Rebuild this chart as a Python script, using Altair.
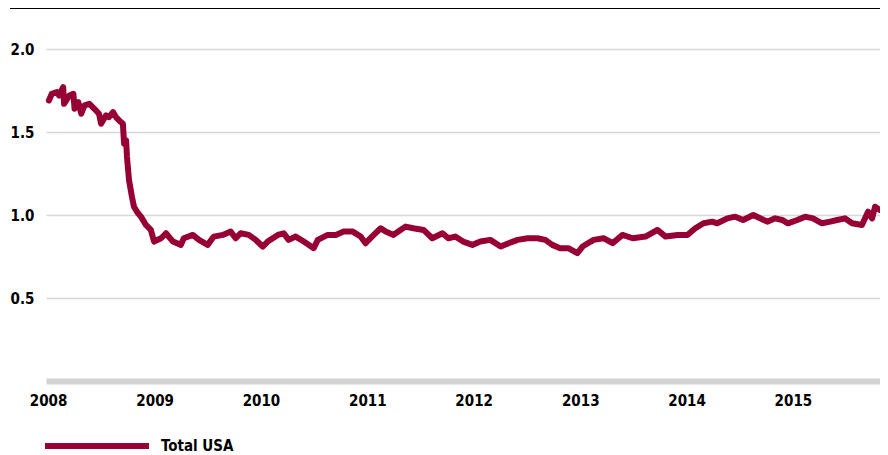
import altair as alt
import pandas as pd

dates = [
    "2008-01-04", "2008-01-14", "2008-01-31", "2008-02-08", "2008-02-22", "2008-02-25",
    "2008-03-14", "2008-03-28", "2008-04-01", "2008-04-14", "2008-04-24", "2008-05-05",
    "2008-05-22", "2008-06-08", "2008-06-24", "2008-07-01", "2008-07-18", "2008-07-28",
    "2008-08-11", "2008-08-21", "2008-09-01", "2008-09-14", "2008-09-18", "2008-09-25",
    "2008-09-28", "2008-10-05", "2008-10-15", "2008-10-22", "2008-11-05", "2008-11-15",
    "2008-12-02", "2008-12-19", "2008-12-30", "2009-01-23", "2009-02-09", "2009-03-05",
    "2009-04-01", "2009-04-11", "2009-05-12", "2009-06-02", "2009-07-02", "2009-07-23",
    "2009-08-23", "2009-09-19", "2009-10-06", "2009-10-23", "2009-11-20", "2009-12-14",
    "2010-01-07", "2010-01-24", "2010-02-28", "2010-03-20", "2010-04-06", "2010-04-30",
    "2010-05-28", "2010-07-01", "2010-07-15", "2010-08-18", "2010-09-15", "2010-10-12",
    "2010-11-12", "2010-12-09", "2010-12-26", "2011-01-23", "2011-02-16", "2011-03-05",
    "2011-04-01", "2011-04-25", "2011-05-12", "2011-06-08", "2011-07-13", "2011-08-12",
    "2011-09-16", "2011-10-06", "2011-10-30", "2011-11-26", "2011-12-28", "2012-01-24",
    "2012-02-27", "2012-04-03", "2012-04-30", "2012-05-31", "2012-07-04", "2012-08-07",
    "2012-09-03", "2012-09-27", "2012-10-24", "2012-11-21", "2012-12-22", "2013-01-09",
    "2013-02-06", "2013-02-16", "2013-03-22", "2013-04-22", "2013-05-26", "2013-06-30",
    "2013-08-13", "2013-09-23", "2013-10-21", "2013-12-01", "2014-01-04", "2014-01-31",
    "2014-02-28", "2014-03-30", "2014-04-16", "2014-05-21", "2014-06-17", "2014-07-14",
    "2014-08-18", "2014-10-05", "2014-11-01", "2014-11-25", "2014-12-15", "2015-01-16",
    "2015-02-12", "2015-03-11", "2015-04-11", "2015-05-09", "2015-06-02", "2015-06-29",
    "2015-07-23", "2015-08-26", "2015-09-16", "2015-09-30", "2015-10-10", "2015-10-27",
    "2015-11-06",
]

total_usa = [
    1.69, 1.73, 1.74, 1.72, 1.77, 1.67,
    1.72, 1.73, 1.64, 1.68, 1.61, 1.66,
    1.67, 1.64, 1.61, 1.55, 1.60, 1.59,
    1.62, 1.59, 1.57, 1.55, 1.43, 1.45,
    1.35, 1.21, 1.11, 1.05, 1.01, 0.99,
    0.94, 0.91, 0.84, 0.86, 0.89, 0.84,
    0.82, 0.86, 0.88, 0.85, 0.82, 0.87,
    0.88, 0.90, 0.86, 0.89, 0.88, 0.85,
    0.81, 0.84, 0.88, 0.89, 0.85, 0.87,
    0.84, 0.80, 0.85, 0.88, 0.88, 0.90,
    0.90, 0.87, 0.83, 0.88, 0.92, 0.90,
    0.88, 0.91, 0.93, 0.92, 0.91, 0.86,
    0.89, 0.86, 0.87, 0.84, 0.82, 0.84,
    0.85, 0.81, 0.83, 0.85, 0.86, 0.86,
    0.85, 0.82, 0.80, 0.80, 0.77, 0.81,
    0.84, 0.85, 0.86, 0.83, 0.88, 0.86,
    0.87, 0.91, 0.87, 0.88, 0.88, 0.92,
    0.95, 0.96, 0.95, 0.98, 0.99, 0.97,
    1.00, 0.96, 0.98, 0.97, 0.95, 0.97,
    0.99, 0.98, 0.95, 0.96, 0.97, 0.98,
    0.95, 0.94, 1.02, 0.98, 1.05, 1.03,
    1.04,
]

series_name = "Total USA"
y_ticks = [0.5, 1.0, 1.5, 2.0]
x_ticks = ["2008-01-01", "2009-01-01", "2010-01-01", "2011-01-01", "2012-01-01",
           "2013-01-01", "2014-01-01", "2015-01-01"]

FONT = "Liberation Sans Narrow, DejaVu Sans Condensed, Arial Narrow, sans-serif"
RED = "#970034"
W, H = 834, 373

df = pd.DataFrame({"date": dates, "value": total_usa, "series": series_name})

line = alt.Chart(df).mark_line(
    strokeWidth=6, strokeCap="round", strokeJoin="round"
).encode(
    x=alt.X("date:T",
            scale=alt.Scale(domain=["2007-12-25", "2015-10-27"], nice=False),
            axis=alt.Axis(values=[pd.Timestamp(t).isoformat() for t in x_ticks],
                          format="%Y", title=None, grid=False, ticks=False,
                          domainColor="#d3d3d3", domainWidth=6,
                          labelPadding=12, labelBaseline="top",
                          labelFlush=False, labelOverlap=False)),
    y=alt.Y("value:Q",
            scale=alt.Scale(domain=[0, 2.247], nice=False, zero=True),
            axis=alt.Axis(values=y_ticks, format=".1f", title=None, domain=False,
                          ticks=False, grid=True, gridColor="#d8d8d8", gridWidth=1.5,
                          labelPadding=12)),
    color=alt.Color("series:N",
                    scale=alt.Scale(domain=[series_name], range=[RED]),
                    legend=alt.Legend(title=None, orient="none", legendX=-4, legendY=383,
                                      symbolType="stroke", symbolSize=10816,
                                      symbolStrokeWidth=6, labelOffset=9,
                                      padding=0)),
)

top_rule = alt.Chart(df).mark_rule(color="black", strokeWidth=2.5).encode(
    x=alt.value(-36), x2=alt.value(W + 10), y=alt.value(-1)
)

chart = alt.layer(line, top_rule).properties(
    width=W, height=H,
    autosize=alt.AutoSizeParams(type="none"),
    padding={"left": 38, "top": 0, "right": 0, "bottom": 74},
).configure_view(stroke=None).configure_axis(
    labelFont=FONT, labelFontSize=15, labelFontWeight="bold", labelColor="black"
).configure_legend(
    labelFont=FONT, labelFontSize=15, labelFontWeight="bold", labelColor="black"
)

chart.save("out.html", embed_options={"renderer": "svg", "actions": False})
